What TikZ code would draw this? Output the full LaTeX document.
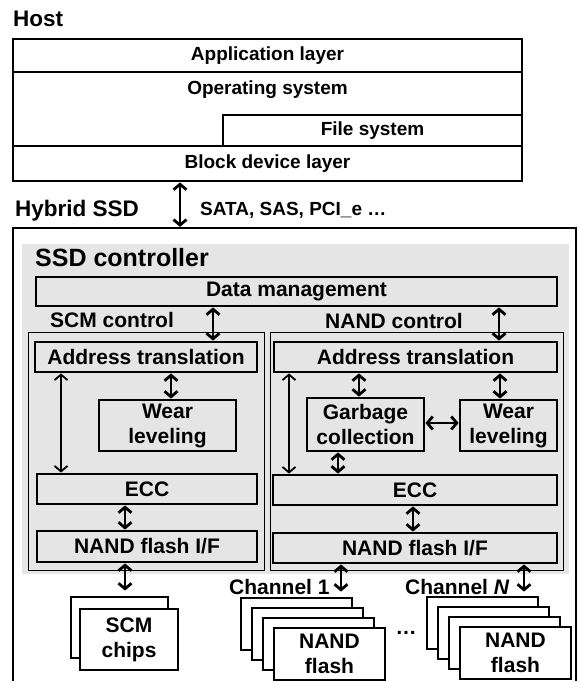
\documentclass[tikz,border=0pt]{standalone}
\usepackage{fontspec}
\setmainfont{Liberation Sans}
\usetikzlibrary{positioning,arrows.meta}
\definecolor{ctrlgray}{RGB}{229,229,229}
\tikzset{
  hostrow/.style={draw, line width=2.8pt, fill=white, inner sep=0pt, font=\bfseries\fontsize{19}{22}\selectfont},
  blk/.style={draw, line width=2.8pt, inner sep=0pt, align=center, font=\bfseries\fontsize{21}{25}\selectfont},
  chip/.style={blk, fill=white, minimum width=111pt, minimum height=52pt},
  ctrlbox/.style={draw, line width=0.8pt, inner sep=0pt},
  title/.style={anchor=west, inner sep=0pt, font=\bfseries\fontsize{22.5}{26}\selectfont},
  subtitle/.style={anchor=west, inner sep=0pt, font=\bfseries\fontsize{21}{25}\selectfont},
  tip/.style={{Straight Barb[length=5.5pt,width=13pt]}-{Straight Barb[length=5.5pt,width=13pt]}},
  dbl/.style={tip, line width=2.8pt},
  dblthin/.style={tip, line width=1.8pt}
}
\begin{document}
\begin{tikzpicture}[x=1pt,y=-1pt]
  \useasboundingbox (0,0) rectangle (580,681);
  % host stack
  \node[title] (host) at (13,19) {Host};
  \node[hostrow, minimum width=509pt, minimum height=33pt] (app) at (267.5,55.5) {Application layer};
  \node[hostrow, minimum width=509pt, minimum height=74pt] (os) at (267.5,109) {};
  \node[hostrow, draw=none, fill=none, below=9pt of os.north] (ostxt) {Operating system};
  \node[hostrow, minimum width=299pt, minimum height=31pt] (fs) at (372.5,130.5) {File system};
  \node[hostrow, minimum width=509pt, minimum height=35pt] (bdl) at (267.5,163.5) {Block device layer};

  % hybrid SSD
  \node[title] (hyb) at (15,211) {Hybrid SSD};
  \node[subtitle, font=\bfseries\fontsize{19}{22}\selectfont] (bus) at (200,210) {SATA, SAS, PCI\_e …};
  \node[draw, line width=2.2pt, minimum width=563pt, minimum height=492pt] (ssd) at (294.5,474) {};
  \node[fill=ctrlgray, minimum width=547pt, minimum height=330pt] (ctl) at (295.5,409) {};
  \node[title, font=\bfseries\fontsize{25}{28}\selectfont] (ctltxt) at (35,258) {SSD controller};
  \node[blk, minimum width=521pt, minimum height=29pt] (dm) at (296.5,291.5) {Data management};

  % SCM control
  \node[subtitle] (scmtxt) at (50,320) {SCM control};
  \node[ctrlbox, minimum width=236pt, minimum height=238pt] (scm) at (146,451) {};
  \node[blk, minimum width=222pt, minimum height=30pt] (sat) at (146,357) {Address translation};
  \node[blk, minimum width=137pt, minimum height=51pt] (swl) at (167.5,425.5) {Wear\\leveling};
  \node[blk, minimum width=220pt, minimum height=30pt] (secc) at (147,489) {ECC};
  \node[blk, minimum width=220pt, minimum height=31pt] (snif) at (147,546.5) {NAND flash I/F};
  \node[blk, fill=white, minimum width=97pt, minimum height=61pt] (sback) at (119.5,627.5) {};
  \node[blk, fill=white, minimum width=98pt, minimum height=61pt] (schip) at (129,639.5) {SCM\\chips};

  % NAND control
  \node[subtitle] (nandtxt) at (325,321) {NAND control};
  \node[ctrlbox, minimum width=293pt, minimum height=238pt] (nand) at (416.5,451) {};
  \node[blk, minimum width=283pt, minimum height=30pt] (nat) at (415.5,357) {Address translation};
  \node[blk, minimum width=117pt, minimum height=53pt] (gc) at (365.5,424.5) {Garbage\\collection};
  \node[blk, minimum width=97pt, minimum height=51pt] (nwl) at (508.5,425.5) {Wear\\leveling};
  \node[blk, minimum width=284pt, minimum height=30pt] (necc) at (415,490) {ECC};
  \node[blk, minimum width=284pt, minimum height=30pt] (nnif) at (415,548) {NAND flash I/F};

  % channels
  \node[subtitle] (ch1txt) at (229,587) {Channel 1};
  \node[subtitle] (chNtxt) at (405,587) {Channel \textit{N}};
  \foreach \i in {0,1,2} {
    \node[chip] (ca\i) at (296.5+11*\i,624+10*\i) {};
    \node[chip] (cb\i) at (482.5+11*\i,623+10*\i) {};
  }
  \node[chip] (ca3) at (329.5,654) {NAND\\flash};
  \node[chip] (cb3) at (515.5,653) {NAND\\flash};
  \node[subtitle, anchor=center] (dots) at (406,633) {…};

  % connectors
  \draw[dbl] (bdl.south -| 180,0) -- (ssd.north -| 180,0);
  \draw[dbl] (dm.south -| 213,0) -- (sat.north -| 213,0);
  \draw[dbl] (dm.south -| 499,0) -- (nat.north -| 499,0);
  \draw[dbl] (sat.south -| 171,0) -- (swl.north -| 171,0);
  \draw[dblthin] (sat.south -| 61,0) -- (secc.north -| 61,0);
  \draw[dbl] (secc.south -| 125,0) -- (snif.north -| 125,0);
  \draw[dbl, shorten >=5pt] (snif.south -| 125,0) -- (sback.north -| 125,0);
  \draw[dbl] (nat.south -| 359,0) -- (gc.north -| 359,0);
  \draw[dbl] (nat.south -| 500,0) -- (nwl.north -| 500,0);
  \draw[dbl] (gc.east |- 0,423) -- (nwl.west |- 0,423);
  \draw[dblthin] (nat.south -| 289,0) -- (necc.north -| 289,0);
  \draw[dbl] (gc.south -| 338,0) -- (necc.north -| 338,0);
  \draw[dbl] (necc.south -| 413,0) -- (nnif.north -| 413,0);
  \draw[dbl, shorten >=5pt] (nnif.south -| 341,0) -- (ca0.north -| 341,0);
  \draw[dbl, shorten >=4pt] (nnif.south -| 524,0) -- (cb0.north -| 524,0);
\end{tikzpicture}
\end{document}
